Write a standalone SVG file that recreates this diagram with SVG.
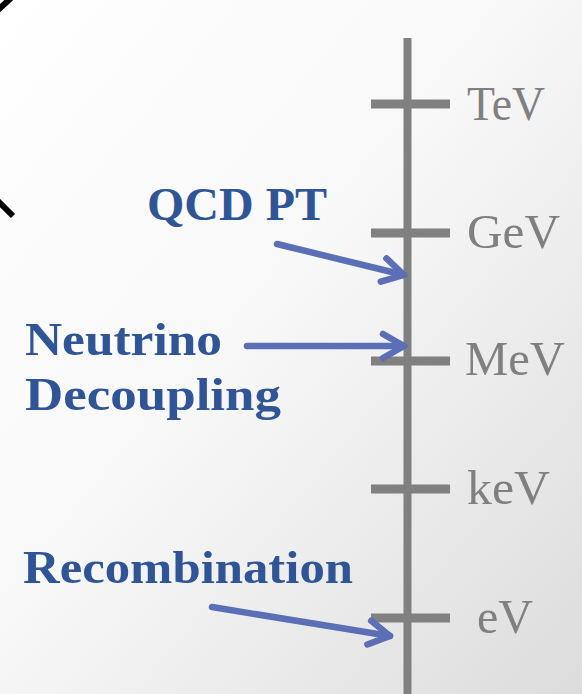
<svg xmlns="http://www.w3.org/2000/svg" width="582" height="694" viewBox="0 0 582 694">
  <defs>
    <linearGradient id="bg" x1="0" y1="0" x2="1" y2="1">
      <stop offset="0" stop-color="#ffffff"/>
      <stop offset="0.45" stop-color="#f8f8f8"/>
      <stop offset="1" stop-color="#dcdcdc"/>
    </linearGradient>
    <marker id="head" markerUnits="userSpaceOnUse" markerWidth="40" markerHeight="40" viewBox="-30 -20 40 40" refX="0" refY="0" orient="auto" overflow="visible">
      <path d="M -21,-12 L 0,0 L -21,12" fill="none" stroke="#5a6fb5" stroke-width="6.5" stroke-linecap="round" stroke-linejoin="round"/>
    </marker>
    <style>
      .axis { stroke: #808080; stroke-width: 8; fill: none; }
      .tick { stroke: #808080; stroke-width: 9; fill: none; }
      .unit { font-family: "Liberation Serif", "Times New Roman", serif; font-size: 48px; fill: #808080; }
      .lab { font-family: "Liberation Serif", "Times New Roman", serif; font-size: 47px; font-weight: bold; fill: #2f5597; }
      .arrow { stroke: #5a6fb5; stroke-width: 6.5; stroke-linecap: round; fill: none; marker-end: url(#head); }
      .black { stroke: #000; stroke-width: 6; fill: none; }
    </style>
  </defs>
  <rect x="0" y="0" width="582" height="694" fill="url(#bg)"/>
  <g id="bracket">
    <path class="black" d="M -3,11 L 11,-2"/>
    <path class="black" d="M -2,201 L 13,216"/>
  </g>
  <g id="axis">
    <line class="axis" x1="407.5" y1="38" x2="407.5" y2="694"/>
  </g>
  <g id="tev">
    <line class="tick" x1="371" y1="104" x2="450" y2="104"/>
    <text class="unit" x="467" y="120" textLength="78" lengthAdjust="spacingAndGlyphs">TeV</text>
  </g>
  <g id="gev">
    <line class="tick" x1="371" y1="233" x2="450" y2="233"/>
    <text class="unit" x="467" y="248" textLength="93" lengthAdjust="spacingAndGlyphs">GeV</text>
  </g>
  <g id="mev">
    <line class="tick" x1="371" y1="361" x2="450" y2="361"/>
    <text class="unit" x="465" y="375" textLength="100" lengthAdjust="spacingAndGlyphs">MeV</text>
  </g>
  <g id="kev">
    <line class="tick" x1="371" y1="489" x2="450" y2="489"/>
    <text class="unit" x="467" y="504" textLength="83" lengthAdjust="spacingAndGlyphs">keV</text>
  </g>
  <g id="ev">
    <line class="tick" x1="371" y1="618" x2="450" y2="618"/>
    <text class="unit" x="477" y="633" textLength="56" lengthAdjust="spacingAndGlyphs">eV</text>
  </g>
  <g id="qcd">
    <text class="lab" x="147" y="220" textLength="180" lengthAdjust="spacingAndGlyphs">QCD PT</text>
  </g>
  <g id="neutrino">
    <text class="lab" x="25" y="355" textLength="197" lengthAdjust="spacingAndGlyphs">Neutrino</text>
    <text class="lab" x="25" y="410" textLength="256" lengthAdjust="spacingAndGlyphs">Decoupling</text>
  </g>
  <g id="recombination">
    <text class="lab" x="23" y="583" textLength="330" lengthAdjust="spacingAndGlyphs">Recombination</text>
  </g>
  <g id="connectors">
    <line class="arrow" x1="277" y1="244" x2="404" y2="275"/>
    <line class="arrow" x1="247" y1="346" x2="404" y2="346"/>
    <line class="arrow" x1="212" y1="607" x2="390" y2="636"/>
  </g>
</svg>
